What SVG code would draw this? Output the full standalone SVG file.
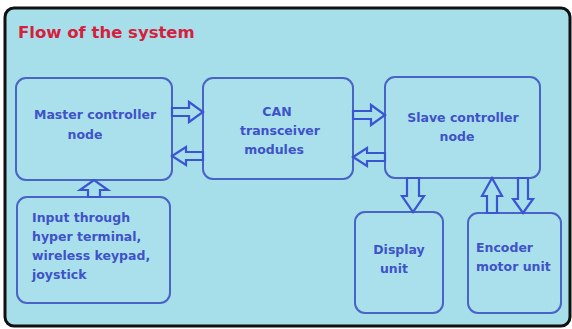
<svg xmlns="http://www.w3.org/2000/svg" width="572" height="329" viewBox="0 0 572 329">
<style>
.box{fill:#a9e0ec;stroke:#4a63c6;stroke-width:2}
.t{font-family:"DejaVu Sans",sans-serif;font-weight:bold;font-size:12.5px;fill:#3f52c8}
.tc{text-anchor:middle}
.arr{fill:#a6deea;stroke:#3a55d2;stroke-width:2.2;stroke-linejoin:miter}
</style>
<rect x="0" y="0" width="572" height="329" fill="#ffffff"/>
<rect id="frame" x="5" y="8" width="565" height="318" rx="9" fill="#a6deea" stroke="#111111" stroke-width="3"/>
<text x="18" y="38" font-family="'DejaVu Sans',sans-serif" font-weight="bold" font-size="16.5" fill="#d61f3c">Flow of the system</text>
<g id="master"><rect class="box" x="16" y="78" width="156" height="102" rx="10"/>
<text class="t tc" x="95" y="119">Master controller</text><text class="t tc" x="85" y="139">node</text></g>
<g id="can"><rect class="box" x="203" y="78" width="150" height="101" rx="10"/>
<text class="t tc" x="277" y="116">CAN</text><text class="t tc" x="280" y="135">transceiver</text><text class="t tc" x="274" y="154">modules</text></g>
<g id="slave"><rect class="box" x="385" y="77" width="155" height="101" rx="10"/>
<text class="t tc" x="463" y="122">Slave controller</text><text class="t tc" x="457" y="141">node</text></g>
<g id="input"><rect class="box" x="17" y="197" width="153" height="106" rx="10"/>
<text class="t" x="32" y="222">Input through</text><text class="t" x="32" y="241">hyper terminal,</text><text class="t" x="32" y="260">wireless keypad,</text><text class="t" x="32" y="279">joystick</text></g>
<g id="display"><rect class="box" x="355" y="212" width="88" height="101" rx="10"/>
<text class="t tc" x="399" y="254">Display</text><text class="t tc" x="394" y="273">unit</text></g>
<g id="encoder"><rect class="box" x="468" y="213" width="93" height="100" rx="10"/>
<text class="t" x="476" y="252">Encoder</text><text class="t" x="476" y="271">motor unit</text></g>
<g id="connectors">
<polygon class="arr" points="172,108 189,108 189,102 203,112 189,122 189,116 172,116"/>
<polygon class="arr" points="203,152 186,152 186,147 172,156 186,165 186,160 203,160"/>
<polygon class="arr" points="353,111 371,111 371,105 385,115 371,125 371,119 353,119"/>
<polygon class="arr" points="385,153 367,153 367,148 353,157 367,166 367,161 385,161"/>
<polygon class="arr" points="88,197 88,190 80,190 94,180 108,190 100,190 100,197"/>
<polygon class="arr" points="407,178 407,196 402,196 413,212 424,196 419,196 419,178"/>
<polygon class="arr" points="487,213 487,196 482,196 492,178 502,196 497,196 497,213"/>
<polygon class="arr" points="518,178 518,199 513,199 523,213 533,199 528,199 528,178"/>
</g>
</svg>
